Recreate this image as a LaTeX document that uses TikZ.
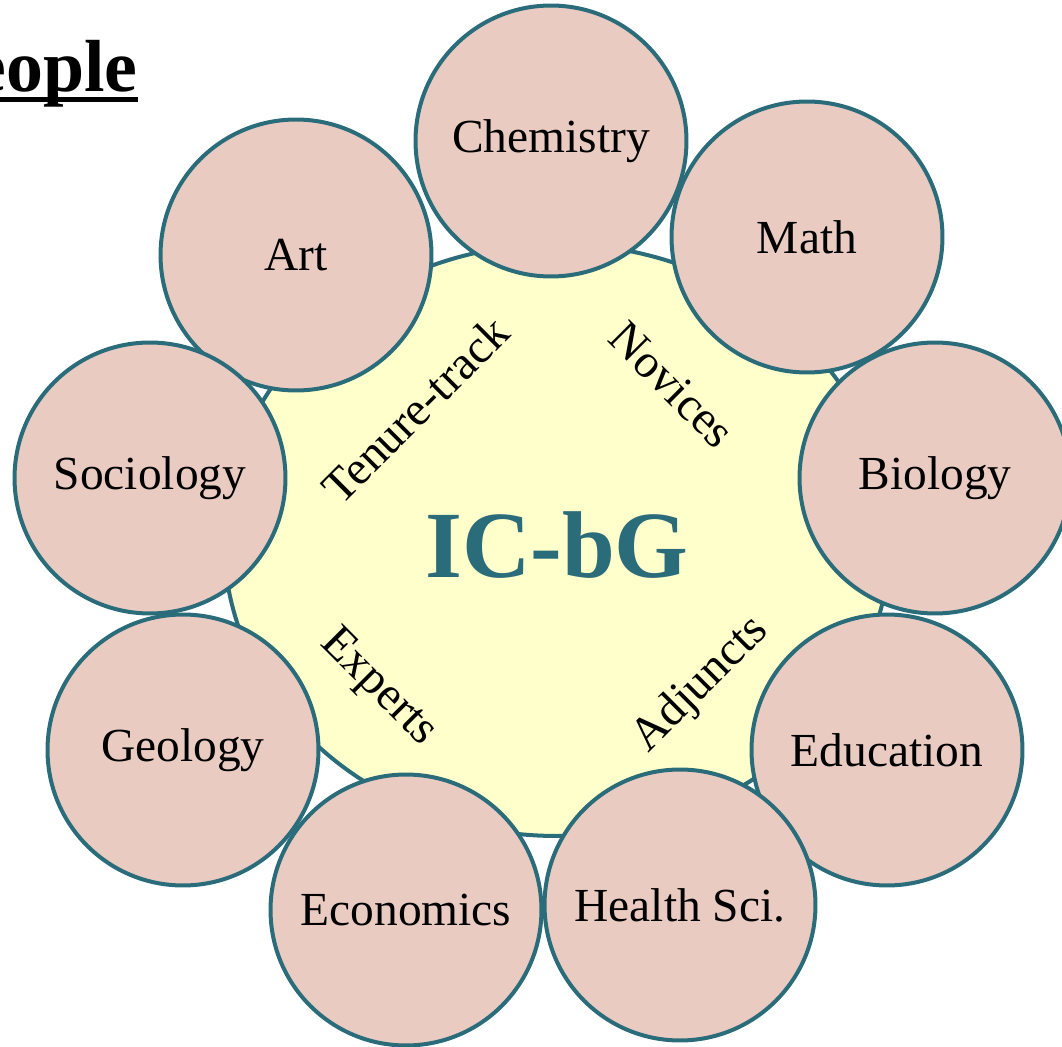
\documentclass[tikz,border=0pt]{standalone}
\usepackage{fontspec}
\setmainfont{Liberation Serif}
\definecolor{ringteal}{HTML}{2B6C7B}
\definecolor{deptpink}{HTML}{E9CBC2}
\definecolor{hubyellow}{HTML}{FFFFCC}
\tikzset{
	dept/.style={circle, draw=ringteal, fill=deptpink, line width=0.08cm,
		minimum size=5.42cm, inner sep=0pt, font=\fontsize{27}{32}\selectfont},
	role/.style={font=\fontsize{27}{32}\selectfont},
}
\begin{document}
\begin{tikzpicture}[x=0.02cm,y=-0.02cm]
		\useasboundingbox (0,0) rectangle (1062,1047);
		\coordinate (hub) at (557,540);
		\draw[ringteal, fill=hubyellow, line width=0.08cm] (hub) ellipse [x radius=333, y radius=296];
		\node[role, rotate=45] (tenure) at (415,410) {Tenure-track};
		\node[role, rotate=-45] (novices) at (672,385) {Novices};
		\node[role, rotate=-45] (experts) at (378,688) {Experts};
		\node[role, rotate=45] (adjuncts) at (701,685) {Adjuncts};
		\node[anchor=base, text=ringteal, font=\fontsize{54}{60}\selectfont\bfseries] (icbg) at (557,577) {IC-bG};
		\node[dept] (chem) at (551,141) {Chemistry};
		\node[dept] (math) at (807,237) {Math};
		\node[dept] (art) at (296,255) {Art};
		\node[dept] (bio) at (935,478) {Biology};
		\node[dept] (soc) at (150,478) {Sociology};
		\node[dept] (geo) at (183,750) {Geology};
		\node[dept] (edu) at (887,750) {Education};
		\node[dept] (econ) at (406,910) {Economics};
		\node[dept] (health) at (680,905) {Health Sci.};
		% title, cut off at the left edge
		\node[anchor=base east, inner sep=0pt, font=\fontsize{42}{48}\selectfont\bfseries] (people) at (138,92) {People};
		\draw[line width=0.1cm] ([yshift=-0.15cm]people.base west) -- ([yshift=-0.15cm]people.base east);
	\end{tikzpicture}
\end{document}
